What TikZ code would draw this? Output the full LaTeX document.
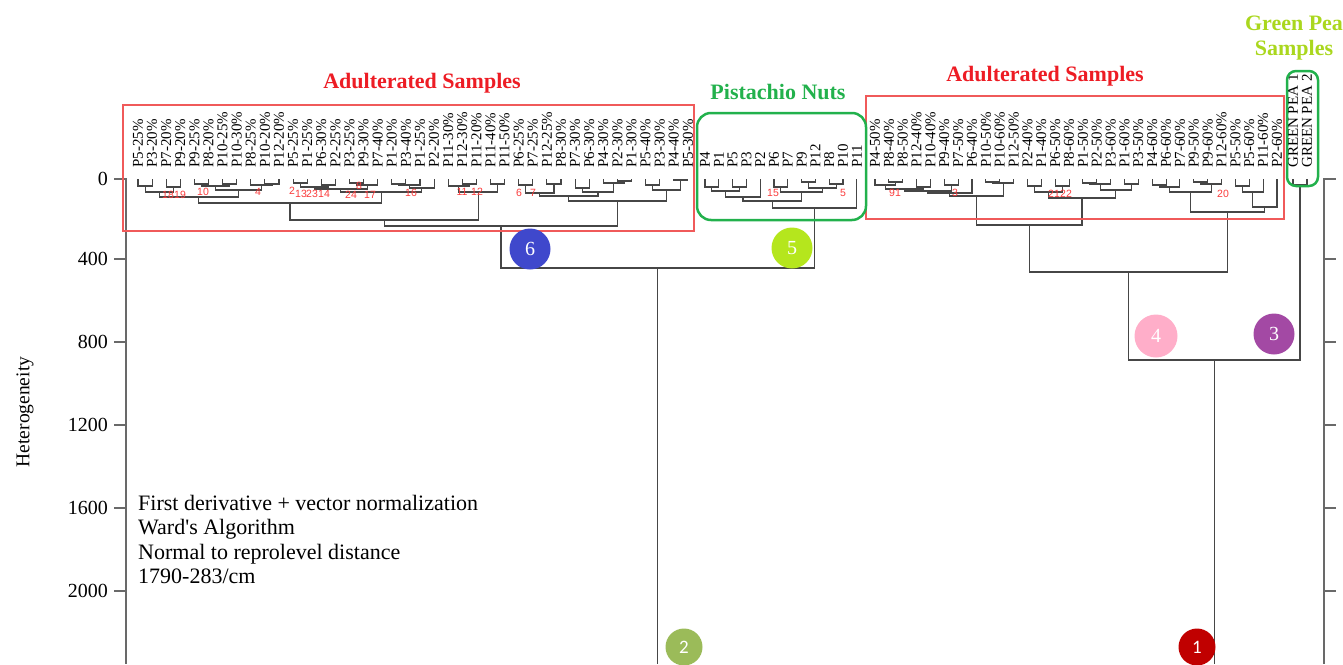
\documentclass[tikz,border=0pt]{standalone}
\usepackage{fontspec}
\setmainfont{Liberation Serif}
\newfontfamily\sansf{Liberation Sans}
\newfontfamily\calib{Carlito}
\usetikzlibrary{calc}
\definecolor{redT}{RGB}{237,28,36}
\definecolor{redB}{RGB}{240,90,90}
\definecolor{redN}{RGB}{250,60,60}
\definecolor{greenB}{RGB}{34,177,76}
\definecolor{peaT}{RGB}{170,215,30}
\definecolor{cSix}{RGB}{63,72,204}
\definecolor{cFive}{RGB}{181,230,29}
\definecolor{cFour}{RGB}{255,174,201}
\definecolor{cThree}{RGB}{163,73,164}
\definecolor{cTwo}{RGB}{155,187,89}
\definecolor{cOne}{RGB}{192,0,0}
\definecolor{dgray}{RGB}{70,70,70}
\definecolor{agray}{RGB}{105,105,105}
\newcommand\dmerge[4]{%
  \coordinate (#1m) at ($(#2)!.5!(#3)$);
  \coordinate (#1h) at (0,#4);
  \coordinate (#1) at (#1m |- #1h);
  \draw[dline] (#2) |- (#1) -| (#3);}
\begin{document}
\begin{tikzpicture}[x=1pt,y=-1pt,
  dline/.style={draw=dgray,line width=1.1pt},
  axisl/.style={draw=agray,line width=1.2pt},
  leaf/.style={rotate=90,anchor=west,inner sep=0pt,font=\fontsize{15}{15}\selectfont},
  tick/.style={anchor=east,inner sep=0pt,font=\fontsize{20}{20}\selectfont},
  rnum/.style={text=redN,inner sep=0pt,font=\sansf\fontsize{10.5}{11}\selectfont},
  ttl/.style={font=\bfseries\fontsize{22}{25}\selectfont,inner sep=0pt,align=center},
  circ/.style={circle,inner sep=0pt,minimum size=41pt,text=white,font=\fontsize{20}{20}\selectfont},
  circs/.style={circle,inner sep=0pt,minimum size=37pt,text=white,font=\calib\fontsize{19}{19}\selectfont},
  info/.style={anchor=base west,inner sep=0pt,font=\fontsize{22}{24}\selectfont}]
\useasboundingbox (0,0) rectangle (1343,664);
\clip (0,0) rectangle (1343,664);

% ---- axes ----
\coordinate (axT) at (126,178);
\coordinate (axB) at (126,664);
\draw[axisl] (axT) -- (axB);
\coordinate (raT) at (1324,178);
\coordinate (raB) at (1324,664);
\draw[axisl] (raT) -- (raB);
\foreach \v/\y in {0/179,400/259,800/342,1200/425,1600/508,2000/591}{
  \coordinate (tk\v) at (126,\y);
  \coordinate (tkl\v) at (114,\y);
  \draw[axisl] (tkl\v) -- (tk\v);
  \node[tick] (tl\v) at (108,\y) {\v};
  \coordinate (rk\v) at (1324,\y);
  \coordinate (rkr\v) at (1336,\y);
  \draw[axisl] (rk\v) -- (rkr\v);
}
\node[rotate=90,inner sep=0pt,font=\fontsize{19.5}{20}\selectfont] (ylab) at (25,412) {Heterogeneity};

% ---- leaves ----
\foreach \lab [count=\i] in {P5-25,P3-20,P7-20,P9-20,P9-25,P8-20,P10-25,P10-30,P8-25,P10-20,P12-20,P5-25,P1-25,P6-30,P2-25,P3-25,P9-30,P7-40,P1-20,P3-40,P1-25,P2-20,P11-30,P12-30,P11-20,P11-40,P11-50,P6-25,P7-25,P12-25,P8-30,P7-30,P6-30,P4-30,P2-30,P1-30,P5-40,P3-30,P4-40,P5-30}{
  \pgfmathsetmacro\xx{138+(\i-1)*14.1}
  \node[leaf] (ta\i) at (\xx,168) {\lab\%};
  \coordinate (a\i) at (\xx,179);
}
\foreach \lab [count=\i] in {P4,P1,P5,P3,P2,P6,P7,P9,P12,P8,P10,P11}{
  \pgfmathsetmacro\xx{705+(\i-1)*13.8}
  \node[leaf] (tb\i) at (\xx,168) {\lab};
  \coordinate (b\i) at (\xx,179);
}
\foreach \lab [count=\i] in {P4-50,P8-40,P8-50,P12-40,P10-40,P9-40,P7-50,P6-40,P10-50,P10-60,P12-50,P2-40,P1-40,P6-50,P8-60,P1-50,P2-50,P3-60,P1-60,P3-50,P4-60,P6-60,P7-60,P9-50,P9-60,P12-60,P5-50,P5-60,P11-60,P2-60}{
  \pgfmathsetmacro\xx{875+(\i-1)*13.86}
  \node[leaf] (tc\i) at (\xx,168) {\lab\%};
  \coordinate (c\i) at (\xx,179);
}
\node[leaf] (tg1) at (1293,168) {GREEN PEA 1};
\coordinate (g1) at (1293,179);
\node[leaf] (tg2) at (1307,168) {GREEN PEA 2};
\coordinate (g2) at (1307,179);

% ---- left dendrogram ----
\dmerge{la1}{a1}{a2}{186}
\dmerge{la2}{a3}{a4}{187}
\dmerge{lA}{la1}{la2}{192}
\dmerge{lb1}{a5}{a6}{184}
\dmerge{lb2}{a7}{a8}{184}
\dmerge{lb3}{lb1}{lb2}{186}
\dmerge{lb4}{a10}{a11}{184}
\dmerge{lb5}{a9}{lb4}{185}
\dmerge{lB}{lb3}{lb5}{190}
\dmerge{lXa}{lA}{lB}{197}
\dmerge{lp1}{a12}{a13}{183}
\dmerge{lp2}{a14}{a15}{185}
\dmerge{lp3}{lp1}{lp2}{187}
\dmerge{lp4}{a16}{a17}{183}
\dmerge{lp5}{lp4}{a18}{185}
\dmerge{lP}{lp3}{lp5}{189}
\dmerge{lq1}{a19}{a20}{184}
\dmerge{lq2}{lq1}{a21}{185}
\dmerge{lQ}{lq2}{a22}{188}
\dmerge{lXb}{lP}{lQ}{192}
\dmerge{lXone}{lXa}{lXb}{203}
\dmerge{lr1}{a24}{a25}{184}
\dmerge{lr2}{a23}{lr1}{186}
\dmerge{lr3}{a26}{a27}{184}
\dmerge{lXtwo}{lr2}{lr3}{192}
\dmerge{lX}{lXone}{lXtwo}{220}
\dmerge{ly1}{a28}{a29}{185}
\dmerge{ly2}{a30}{a31}{184}
\dmerge{ly3}{ly1}{ly2}{193}
\dmerge{ly4}{a32}{a33}{188}
\dmerge{ly5}{a35}{a36}{181}
\dmerge{ly6}{a34}{ly5}{183}
\dmerge{lyq}{ly4}{ly6}{192}
\dmerge{lYa}{ly3}{lyq}{196}
\dmerge{ly7}{a37}{a38}{185}
\dmerge{ly8}{a39}{a40}{180}
\dmerge{lYb}{ly7}{ly8}{190}
\dmerge{lY}{lYa}{lYb}{201}
\dmerge{L}{lX}{lY}{226}

% ---- middle dendrogram ----
\dmerge{m1}{b1}{b2}{187}
\dmerge{m2}{b3}{b4}{187}
\dmerge{m3}{m1}{m2}{191}
\dmerge{m4}{m3}{b5}{197}
\dmerge{m5}{b6}{b7}{187}
\dmerge{m6}{b8}{b9}{182}
\dmerge{m7}{b10}{b11}{184}
\dmerge{m8}{m6}{m7}{188}
\dmerge{m9}{m5}{m8}{192}
\dmerge{m10}{m4}{m9}{201}
\dmerge{M}{m10}{b12}{208}

% ---- right dendrogram ----
\dmerge{r1}{c2}{c3}{182}
\dmerge{r2}{c1}{r1}{185}
\dmerge{r3}{c4}{c5}{187}
\dmerge{r4}{r2}{r3}{189}
\dmerge{r5}{c6}{c7}{185}
\dmerge{r6}{r4}{r5}{191}
\dmerge{r7}{r6}{c8}{193}
\dmerge{r8}{c9}{c10}{182}
\dmerge{r9}{r8}{c11}{183}
\dmerge{rA}{r7}{r9}{196}
\dmerge{rb1}{c12}{c13}{186}
\dmerge{rb2}{c14}{c15}{186}
\dmerge{rb3}{rb1}{rb2}{192}
\dmerge{rb4}{c16}{c17}{183}
\dmerge{rb5}{rb4}{c18}{184}
\dmerge{rb6}{c19}{c20}{184}
\dmerge{rb7}{rb5}{rb6}{190}
\dmerge{rB}{rb3}{rb7}{198}
\dmerge{Rone}{rA}{rB}{225}
\dmerge{rc1}{c21}{c22}{185}
\dmerge{rc2}{rc1}{c23}{187}
\dmerge{rc3}{c24}{c25}{182}
\dmerge{rc4}{rc3}{c26}{184}
\dmerge{rC}{rc2}{rc4}{192}
\dmerge{rd1}{c27}{c28}{186}
\dmerge{rd2}{rd1}{c29}{192}
\dmerge{rD}{rd2}{c30}{207}
\dmerge{Rtwo}{rC}{rD}{212}
\dmerge{R}{Rone}{Rtwo}{272}
\dmerge{G}{g1}{g2}{185}
\dmerge{RR}{R}{G}{360}
\dmerge{LL}{L}{M}{268}
\coordinate (bot) at (0,664);
\coordinate (LLb) at (LL |- bot);
\coordinate (RRb) at (RR |- bot);
\draw[dline] (LL) -- (LLb);
\draw[dline] (RR) -- (RRb);

% ---- boxes ----
\draw[redB,line width=1.4pt] (123,105) rectangle (694,231);
\draw[redB,line width=1.4pt] (866,96) rectangle (1284,219);
\draw[greenB,line width=2.5pt,rounded corners=14pt] (697,113) rectangle (866,220);
\draw[greenB,line width=2.5pt,rounded corners=9pt] (1287,71) rectangle (1318,186);

% ---- titles ----
\node[ttl,text=redT] (t1) at (422,83) {Adulterated Samples};
\node[ttl,text=redT] (t2) at (1045,76) {Adulterated Samples};
\node[ttl,text=greenB] (t3) at (778,92) {Pistachio Nuts};
\node[ttl,text=peaT] (t4) at (1294,38) {Green Pea\\Samples};

% ---- red cluster numbers ----
\node[rnum] (n18) at (168,195) {18};
\node[rnum] (n19) at (180,195) {19};
\node[rnum] (n10) at (203,192) {10};
\node[rnum] (n4) at (258,192) {4};
\node[rnum] (n2) at (292,191) {2};
\node[rnum] (n13) at (301,194) {13};
\node[rnum] (n23) at (312,194) {23};
\node[rnum] (n14) at (324,194) {14};
\node[rnum] (n24) at (351,195) {24};
\node[rnum] (n8) at (359,186) {8};
\node[rnum] (n17) at (370,195) {17};
\node[rnum] (n16) at (411,193) {16};
\node[rnum] (n11) at (462,192) {11};
\node[rnum] (n12) at (477,192) {12};
\node[rnum] (n6) at (519,193) {6};
\node[rnum] (n7) at (533,193) {7};
\node[rnum] (n15) at (773,193) {15};
\node[rnum] (n5) at (843,193) {5};
\node[rnum] (n91) at (895,193) {91};
\node[rnum] (n3) at (955,193) {3};
\node[rnum] (n21) at (1054,194) {21};
\node[rnum] (n22) at (1066,194) {22};
\node[rnum] (n20) at (1223,194) {20};

% ---- coloured circles ----
\node[circ,fill=cSix] (k6) at (530,249) {6};
\node[circ,fill=cFive] (k5) at (792,248) {5};
\node[circ,fill=cFour,minimum size=43pt] (k4) at (1156,336) {4};
\node[circ,fill=cThree] (k3) at (1274,334) {3};
\node[circs,fill=cTwo] (k2) at (684,647) {2};
\node[circs,fill=cOne] (k1) at (1197,647) {1};

% ---- info text ----
\node[info] (i1) at (138,510) {First derivative + vector normalization};
\node[info] (i2) at (138,534.5) {Ward\textquotesingle s Algorithm};
\node[info] (i3) at (138,559) {Normal to reprolevel distance};
\node[info] (i4) at (138,583.5) {1790-283/cm};
\end{tikzpicture}
\end{document}
